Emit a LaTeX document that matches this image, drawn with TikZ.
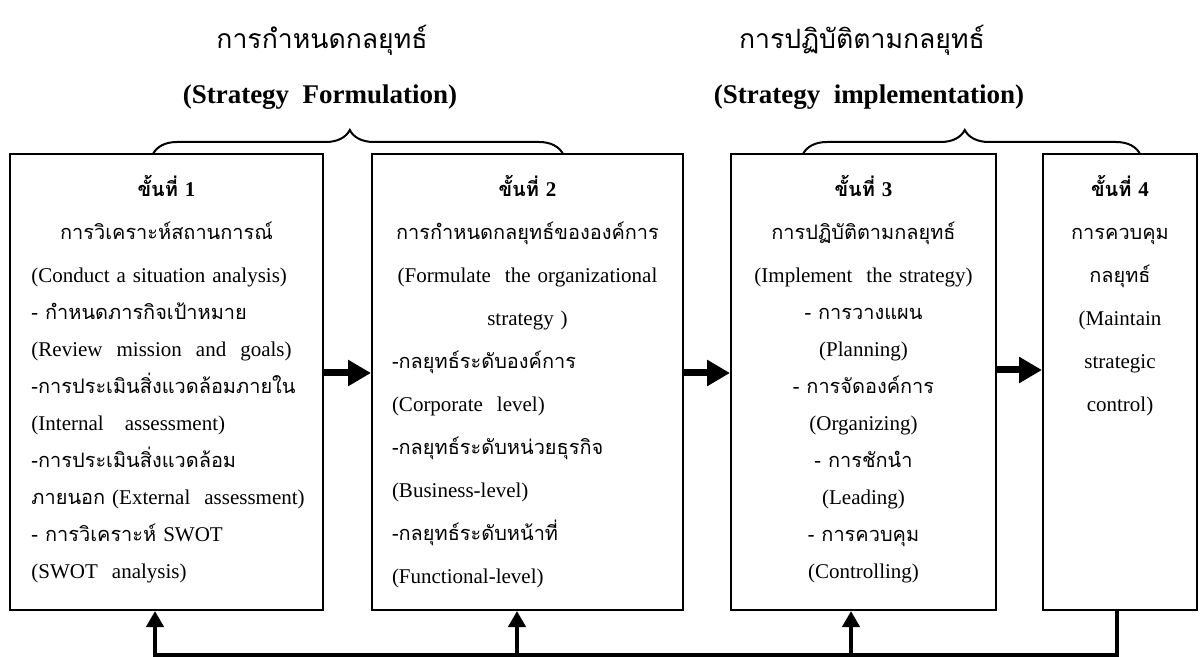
\documentclass[tikz,border=0pt]{standalone}
\usepackage{fontspec}
\setmainfont{Liberation Serif}
\newfontfamily\thaifont[Script=Thai,Scale=0.95]{Loma}
\usetikzlibrary{arrows.meta,decorations.pathreplacing}
\newcommand\tht[1]{{\thaifont #1}}
\newcommand\ctrline[1]{\makebox[\hsize][c]{#1}}
\newcommand\lftline[1]{\makebox[\hsize][l]{#1}}
\newcommand\fillline[1]{\makebox[\hsize][s]{#1}}
\tikzset{
  x=0.5pt, y=-0.5pt,
  box/.style={draw, line width=1pt, inner sep=0pt, minimum height=228pt},
  txt/.style={anchor=base, inner sep=0pt, font=\fontsize{10.5}{#1}\selectfont},
  hdthai/.style={inner sep=0pt, font=\fontsize{14}{16}\selectfont\thaifont},
  hdlat/.style={inner sep=0pt, font=\fontsize{13.5}{16}\selectfont\bfseries},
  harrow/.style={line width=3.5pt, -{Triangle[length=11.5pt,width=12.5pt]}},
  varrow/.style={line width=2pt, -{Triangle[length=8pt,width=8.5pt]}},
  fbline/.style={line width=2pt},
  bracestyle/.style={decorate, decoration={brace, amplitude=12pt, aspect=0.48}, line width=1pt}
}
\begin{document}
\begin{tikzpicture}
\useasboundingbox (0,0) rectangle (1200,657);
% headers
\node[hdthai] (h1) at (322,40) {การกำหนดกลยุทธ์};
\node[hdlat] (h2) at (320,97) {(Strategy\ \ Formulation)};
\node[hdthai] (h3) at (862,40) {การปฏิบัติตามกลยุทธ์};
\node[hdlat] (h4) at (869,97) {(Strategy\ \ implementation)};
% braces
\draw[bracestyle] (153,154) -- (563,154);
\draw[bracestyle] (803,154) -- (1140,154);
% boxes
\node[box, minimum width=156.5pt] (b1) at (166.5,382) {};
\node[box, minimum width=155.5pt] (b2) at (527.5,382) {};
\node[box, minimum width=132.5pt] (b3) at (863.5,382) {};
\node[box, minimum width=77pt] (b4) at (1120,382) {};
% texts
\node[txt=18.5pt, text width=135pt, align=left] (t1) at (166.5,197) {%
\ctrline{\tht{\bfseries ขั้นที่} \textbf{1}}\\[3pt]
\ctrline{\tht{การวิเคราะห์สถานการณ์}}\\[3pt]
\fillline{(Conduct a situation analysis)}\\
\lftline{\tht{- กำหนดภารกิจเป้าหมาย}}\\
\lftline{(Review\ \ mission\ \ and\ \ goals)}\\
\lftline{\tht{-การประเมินสิ่งแวดล้อมภายใน}}\\
\lftline{(Internal\ \ \ assessment)}\\
\lftline{\tht{-การประเมินสิ่งแวดล้อม}}\\
\fillline{\tht{ภายนอก} (External\ \ assessment)}\\
\lftline{\tht{- การวิเคราะห์} SWOT}\\
\lftline{(SWOT\ \ analysis)}};
\node[txt=21.5pt, text width=135.5pt, align=left] (t2) at (527.5,197) {%
\ctrline{\tht{\bfseries ขั้นที่} \textbf{2}}\\
\ctrline{\tht{การกำหนดกลยุทธ์ขององค์การ}}\\
\ctrline{(Formulate\ \ the organizational}\\
\ctrline{strategy )}\\
\lftline{\tht{-กลยุทธ์ระดับองค์การ}}\\
\lftline{(Corporate\ \ level)}\\
\lftline{\tht{-กลยุทธ์ระดับหน่วยธุรกิจ}}\\
\lftline{(Business-level)}\\
\lftline{\tht{-กลยุทธ์ระดับหน้าที่}}\\
\lftline{(Functional-level)}};
\node[txt=18.5pt, text width=125pt, align=center] (t3) at (863.5,197) {%
\tht{\bfseries ขั้นที่} \textbf{3}\\[3pt]
\tht{การปฏิบัติตามกลยุทธ์}\\[3pt]
(Implement\ \ the strategy)\\
\tht{- การวางแผน}\\
(Planning)\\
\tht{- การจัดองค์การ}\\
(Organizing)\\
\tht{- การชักนำ}\\
(Leading)\\
\tht{- การควบคุม}\\
(Controlling)};
\node[txt=21.5pt, text width=72pt, align=center] (t4) at (1120,197) {%
\tht{\bfseries ขั้นที่} \textbf{4}\\
\tht{การควบคุม}\\
\tht{กลยุทธ์}\\
(Maintain\\
strategic\\
control)};
% forward arrows
\draw[harrow] ([yshift=4.5pt]b1.east) -- ([yshift=4.5pt]b2.west);
\draw[harrow] ([yshift=4.5pt]b2.east) -- ([yshift=4.5pt]b3.west);
\draw[harrow] ([yshift=6pt]b3.east) -- ([yshift=6pt]b4.west);
% feedback
\coordinate (r4) at (1117,655);
\coordinate (r1) at (155,655);
\coordinate (r2) at (517,655);
\coordinate (r3) at (851,655);
\draw[fbline] (b4.south -| r4) -- (r4) -- ([xshift=-1pt]r1);
\draw[varrow] ([yshift=1pt]r1) -- (r1 |- b1.south);
\draw[varrow] ([yshift=1pt]r2) -- (r2 |- b2.south);
\draw[varrow] ([yshift=1pt]r3) -- (r3 |- b3.south);
\end{tikzpicture}
\end{document}
